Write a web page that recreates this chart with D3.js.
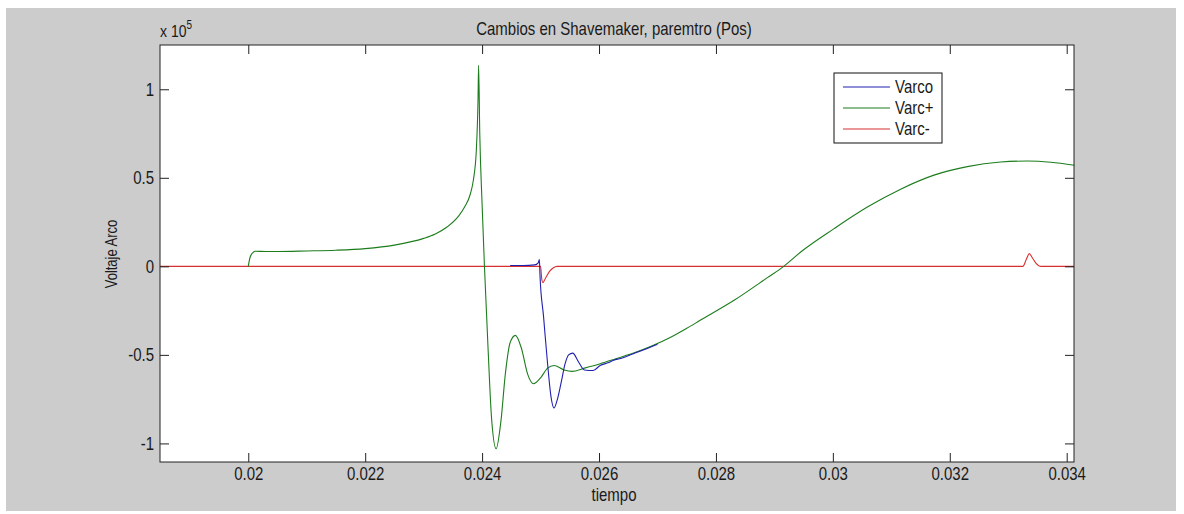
<!DOCTYPE html>
<html>
<head>
<meta charset="utf-8">
<script src="https://cdn.jsdelivr.net/npm/d3@7"></script>
<style>
  body { margin: 0; background: #ffffff; }
  text { font-family: "Liberation Sans", Arial, sans-serif; fill: #1a1a1a; }
</style>
</head>
<body>
<div id="chart"></div>
<script>

// Varco (blue)
var timeVarco = [0.02448, 0.02470, 0.02490, 0.02496, 0.02498, 0.02499, 0.02505, 0.02512, 0.02518, 0.02523,
  0.02528, 0.02535, 0.02542, 0.02548, 0.02555, 0.02565, 0.02575, 0.02590, 0.02602, 0.02615,
  0.02625, 0.02637, 0.02650, 0.02670, 0.02700];
var varco = [0.005, 0.005, 0.008, 0.02, 0.038, -0.05, -0.28, -0.55, -0.74, -0.80,
  -0.76, -0.66, -0.55, -0.50, -0.49, -0.54, -0.585, -0.588, -0.56, -0.545,
  -0.53, -0.52, -0.505, -0.48, -0.44];

// Varc+ (green)
var timeVarcPlus = [0.02000, 0.02003, 0.02008, 0.02012, 0.0203, 0.0205, 0.0210, 0.0215, 0.0220, 0.0225,
  0.0230, 0.0232, 0.0234, 0.0236, 0.0237, 0.0238, 0.02385, 0.02390, 0.02393, 0.02394,
  0.02396, 0.02400, 0.02404, 0.02410, 0.02416, 0.02424, 0.02432, 0.02440, 0.02448, 0.02457,
  0.02467, 0.02478, 0.02488, 0.02500, 0.02512, 0.02523, 0.02540, 0.02554, 0.02575, 0.02602,
  0.02630, 0.02659, 0.0269, 0.0272, 0.02750, 0.02773, 0.02831, 0.02888, 0.02916, 0.02945,
  0.03002, 0.03059, 0.03116, 0.03173, 0.03230, 0.03287, 0.03333, 0.03373, 0.03413];
var varcPlus = [0, 0.05, 0.078, 0.085, 0.084, 0.084, 0.087, 0.091, 0.100, 0.120,
  0.158, 0.183, 0.222, 0.285, 0.335, 0.41, 0.486, 0.65, 0.94, 1.135,
  0.75, 0.35, 0, -0.45, -0.85, -1.03, -0.88, -0.60, -0.43, -0.39,
  -0.46, -0.61, -0.663, -0.63, -0.575, -0.56, -0.585, -0.593, -0.575, -0.55,
  -0.52, -0.49, -0.45, -0.405, -0.35, -0.305, -0.192, -0.064, 0, 0.081,
  0.213, 0.335, 0.436, 0.515, 0.563, 0.589, 0.595, 0.588, 0.571];

// Varc- (red)
var timeVarcMinus = [0.01849, 0.02500, 0.02502, 0.02504, 0.02508, 0.02515, 0.02522, 0.02528, 0.03325, 0.03331,
  0.03336, 0.03341, 0.03347, 0.03356, 0.034125];
var varcMinus = [0, 0, -0.07, -0.092, -0.07, -0.03, -0.008, 0, 0, 0.04,
  0.072, 0.05, 0.02, 0, 0];

var xTicks = [0.02, 0.022, 0.024, 0.026, 0.028, 0.03, 0.032, 0.034];
var xTickLabels = ["0.02", "0.022", "0.024", "0.026", "0.028", "0.03", "0.032", "0.034"];
var yTicks = [-1, -0.5, 0, 0.5, 1];
var yTickLabels = ["-1", "-0.5", "0", "0.5", "1"];
var yLimits = [-1.105, 1.25];

var seriesNames = ["Varco", "Varc+", "Varc-"];
var seriesColors = ["#2020b0", "#1d7d1d", "#d83030"];

var width = 1184, height = 514;
var margin = {top: 45, right: 110, bottom: 52, left: 160};
var stretch = 1.2; // the matlab font is taller than arial at the same width

var svg = d3.select("#chart").append("svg")
    .attr("width", width)
    .attr("height", height);

// figure background
svg.append("rect")
    .attr("x", 6).attr("y", 8)
    .attr("width", 1170).attr("height", 503)
    .attr("fill", "#cccccc");

var x = d3.scaleLinear()
    .domain(d3.extent(timeVarcMinus))
    .range([margin.left, width - margin.right]);

var y = d3.scaleLinear()
    .domain(yLimits)
    .range([height - margin.bottom, margin.top]);

svg.append("rect")
    .attr("x", margin.left)
    .attr("y", margin.top)
    .attr("width", width - margin.right - margin.left)
    .attr("height", height - margin.bottom - margin.top)
    .attr("fill", "#ffffff");

function zip(ts, vs) {
  return ts.map(function(t, i) { return [t, vs[i]]; });
}
var series = [zip(timeVarco, varco), zip(timeVarcPlus, varcPlus), zip(timeVarcMinus, varcMinus)];

var line = d3.line()
    .x(function(d) { return x(d[0]); })
    .y(function(d) { return y(d[1]); })
    .curve(d3.curveMonotoneX);

var g = svg.append("g");
// draw order: red, green, blue on top
[2, 1, 0].forEach(function(i) {
  g.append("path")
      .datum(series[i])
      .attr("fill", "none")
      .attr("stroke", seriesColors[i])
      .attr("stroke-width", 1.1)
      .attr("d", line);
});

// stretch a text vertically around its anchor point
function tall(sel) {
  sel.each(function() {
    var t = d3.select(this);
    var tx = +t.attr("x") || 0, ty = +t.attr("y") || 0;
    t.attr("transform", "translate(" + tx + "," + ty + ") scale(1," + stretch + ") translate(" + (-tx) + "," + (-ty) + ")");
  });
}

// axes, ticks pointing inwards like matlab
var fs = 15;
svg.append("g")
    .attr("transform", "translate(0," + (height - margin.bottom) + ")")
    .call(d3.axisBottom(x).tickValues(xTicks).tickSize(-9).tickPadding(5)
      .tickFormat(function(d, i) { return xTickLabels[i]; }));
svg.append("g")
    .attr("transform", "translate(0," + margin.top + ")")
    .call(d3.axisTop(x).tickValues(xTicks).tickSize(-9).tickFormat(""));
svg.append("g")
    .attr("transform", "translate(" + margin.left + ",0)")
    .call(d3.axisLeft(y).tickValues(yTicks).tickSize(-9).tickPadding(6)
      .tickFormat(function(d, i) { return yTickLabels[i]; }));
svg.append("g")
    .attr("transform", "translate(" + (width - margin.right) + ",0)")
    .call(d3.axisRight(y).tickValues(yTicks).tickSize(-9).tickFormat(""));

svg.selectAll(".domain").remove();
svg.selectAll(".tick line").attr("stroke", "#222").attr("stroke-width", 1);
svg.selectAll(".tick text").attr("font-size", fs).style("font-family", null).attr("fill", "#1a1a1a")
    .call(tall);

svg.append("rect")
    .attr("x", margin.left)
    .attr("y", margin.top)
    .attr("width", width - margin.right - margin.left)
    .attr("height", height - margin.bottom - margin.top)
    .attr("fill", "none")
    .attr("stroke", "#222")
    .attr("stroke-width", 1);

// exponent
var expo = svg.append("text")
    .attr("x", margin.left)
    .attr("y", 37)
    .attr("font-size", 14);
expo.append("tspan").text("x 10");
expo.append("tspan").attr("dy", -7).attr("font-size", 10).text("5");
tall(expo);

// title and labels
svg.append("text")
    .attr("x", 614).attr("y", 35)
    .attr("text-anchor", "middle")
    .attr("font-size", fs)
    .text("Cambios en Shavemaker, paremtro (Pos)")
    .call(tall);

svg.append("text")
    .attr("x", 614).attr("y", 501)
    .attr("text-anchor", "middle")
    .attr("font-size", fs)
    .text("tiempo")
    .call(tall);

svg.append("text")
    .attr("transform", "translate(117,254) rotate(-90) scale(1," + stretch + ")")
    .attr("text-anchor", "middle")
    .attr("font-size", 13)
    .text("Voltaje Arco");

// legend
var legend = svg.append("g").attr("transform", "translate(834,73)");
legend.append("rect")
    .attr("width", 108).attr("height", 70)
    .attr("fill", "#ffffff")
    .attr("stroke", "#111")
    .attr("stroke-width", 1);
seriesNames.forEach(function(name, i) {
  var yy = 14 + i * 21;
  legend.append("line")
      .attr("x1", 9).attr("x2", 56)
      .attr("y1", yy).attr("y2", yy)
      .attr("stroke", seriesColors[i])
      .attr("stroke-width", 1.1);
  legend.append("text")
      .attr("x", 61).attr("y", yy + 6)
      .attr("font-size", fs)
      .text(name)
      .call(tall);
});

</script>
</body>
</html>
